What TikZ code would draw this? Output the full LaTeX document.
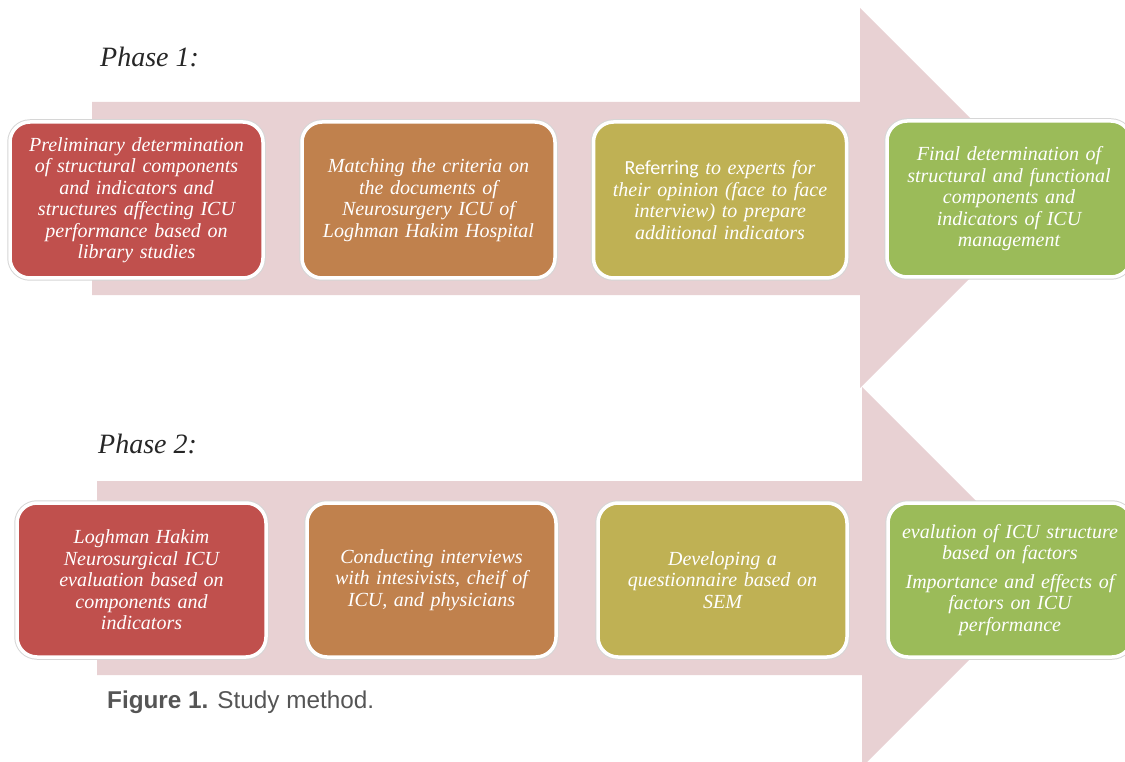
\documentclass[tikz,border=0pt]{standalone}
\usepackage{fontspec}
\setmainfont{Liberation Serif}
\newfontfamily\capfont{Liberation Sans}
\newfontfamily\calib{Carlito}
\definecolor{arrowpink}{RGB}{232,209,211}
\definecolor{boxred}{RGB}{192,80,77}
\definecolor{boxbrown}{RGB}{192,129,77}
\definecolor{boxolive}{RGB}{191,177,84}
\definecolor{boxgreen}{RGB}{155,187,89}
\definecolor{capgray}{RGB}{85,85,85}
\tikzset{
  bigarrow/.style={fill=arrowpink, draw=none},
  stagebox/.style={rectangle, rounded corners=20pt, draw=white, line width=3.5pt,
    preaction={draw=black!16, line width=5.5pt},
    text=white, align=center, inner sep=0pt,
    font=\itshape\fontsize{20}{21.5}\selectfont},
  toprow/.style={stagebox, minimum width=253pt, minimum height=156pt, text width=240pt},
  botrow/.style={stagebox, minimum width=249pt, minimum height=154pt, text width=236pt},
  phaselabel/.style={anchor=base west, inner sep=0pt, font=\itshape\fontsize{28}{30}\selectfont, text=black!85},
  caption/.style={anchor=base west, inner sep=0pt, font=\capfont\fontsize{24.3}{26}\selectfont, text=capgray}
}
\begin{document}
\begin{tikzpicture}[x=1pt,y=-1pt]
\useasboundingbox (0,0) rectangle (1125,762);
\clip (0,0) rectangle (1125,762);
% background arrows
\fill[bigarrow] (92,102) -- (860,102) -- (860,8) -- (1050,198) -- (860,388) -- (860,295) -- (92,295) -- cycle;
\fill[bigarrow] (97,481) -- (862,481) -- (862,387) -- (1052,577) -- (862,767) -- (862,675) -- (97,675) -- cycle;
% phase labels
\node[phaselabel] (p1) at (100,67) {Phase 1:};
\node[phaselabel] (p2) at (98,453) {Phase 2:};
% top row
\node[toprow, fill=boxred] (a1) at (136.5,200) {Preliminary determination\\of structural components\\and indicators and\\structures affecting ICU\\performance based on\\library studies};
\node[toprow, fill=boxbrown] (a2) at (428.5,200) {Matching the criteria on\\the documents of\\Neurosurgery ICU of\\Loghman Hakim Hospital};
\node[toprow, fill=boxolive] (a3) at (720,200) {{\calib\upshape Referring} to experts for\\their opinion (face to face\\interview) to prepare\\additional indicators};
\node[toprow, fill=boxgreen, minimum width=244pt, text width=232pt] (a4) at (1009,199) {Final determination of\\structural and functional\\components and\\indicators of ICU\\management};
% bottom row
\node[botrow, fill=boxred] (b1) at (141.5,580) {Loghman Hakim\\Neurosurgical ICU\\evaluation based on\\components and\\indicators};
\node[botrow, fill=boxbrown] (b2) at (431.5,580) {Conducting interviews\\with intesivists, cheif of\\ICU, and physicians};
\node[botrow, fill=boxolive] (b3) at (722.5,580) {Developing a\\questionnaire  based on\\SEM};
\node[botrow, fill=boxgreen, minimum width=244pt, text width=234pt] (b4) at (1010,580) {evalution of ICU structure\\based on factors\\[7pt]Importance and effects  of\\factors on ICU\\performance};
% caption
\node[caption] (cap) at (107,708) {\textbf{Figure 1.} Study method.};
\end{tikzpicture}
\end{document}
